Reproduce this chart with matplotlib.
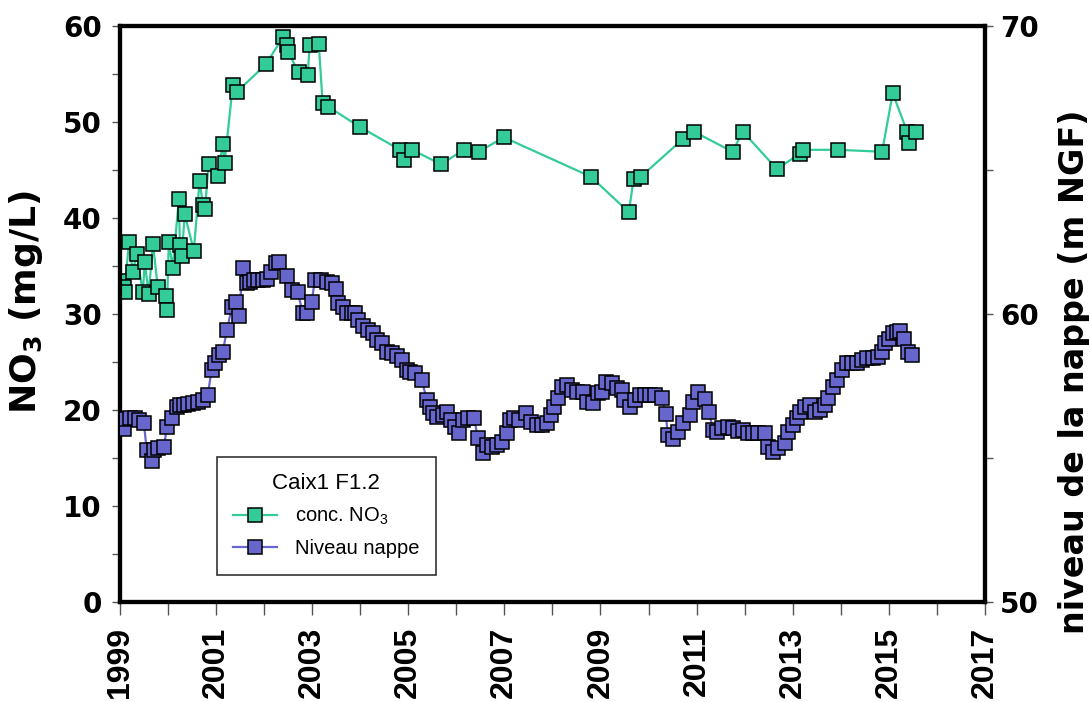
import matplotlib
matplotlib.use("Agg")
import matplotlib.pyplot as plt
from matplotlib.ticker import MultipleLocator

plt.rcParams['font.family'] = ['Liberation Sans', 'DejaVu Sans']
plt.rcParams['mathtext.default'] = 'regular'

# nitrate concentration (mg/L), sampling dates as decimal years
no3_year = [1999.06, 1999.08, 1999.10, 1999.19, 1999.27, 1999.35, 1999.48, 1999.52,
            1999.60, 1999.69, 1999.79, 1999.96, 1999.98, 2000.02, 2000.10, 2000.23,
            2000.25, 2000.29, 2000.35, 2000.54, 2000.66, 2000.73, 2000.77, 2000.85,
            2001.04, 2001.14, 2001.18, 2001.35, 2001.43, 2002.04, 2002.39, 2002.48,
            2002.50, 2002.72, 2002.91, 2002.95, 2003.14, 2003.22, 2003.33, 2003.99,
            2004.83, 2004.91, 2005.08, 2005.68, 2006.16, 2006.47, 2006.99, 2008.80,
            2009.59, 2009.69, 2009.84, 2010.71, 2010.94, 2011.75, 2011.96, 2012.67,
            2013.15, 2013.21, 2013.94, 2014.86, 2015.08, 2015.38, 2015.42, 2015.56]
no3_mgl = [33.4, 32.8, 32.3, 37.5, 34.4, 36.2, 32.3, 35.4,
           32.1, 37.3, 32.8, 31.9, 30.4, 37.5, 34.8, 42.0,
           37.2, 36.0, 40.4, 36.6, 43.8, 41.4, 40.9, 45.6,
           44.4, 47.7, 45.7, 53.8, 53.1, 56.0, 58.8, 58.0,
           57.3, 55.2, 54.9, 58.0, 58.1, 52.0, 51.6, 49.5,
           47.1, 46.0, 47.1, 45.6, 47.1, 46.9, 48.4, 44.3,
           40.6, 44.1, 44.3, 48.2, 49.0, 46.9, 49.0, 45.1,
           46.7, 47.1, 47.1, 46.9, 53.0, 49.0, 47.8, 49.0]

# groundwater level (m NGF)
nappe_year = [1999.08, 1999.09, 1999.21, 1999.31, 1999.40, 1999.50, 1999.56, 1999.67,
              1999.71, 1999.79, 1999.92, 1999.98, 2000.08, 2000.19, 2000.25, 2000.33,
              2000.41, 2000.52, 2000.62, 2000.73, 2000.83, 2000.91, 2000.98, 2001.06,
              2001.14, 2001.23, 2001.33, 2001.41, 2001.48, 2001.56, 2001.64, 2001.70,
              2001.79, 2001.87, 2001.98, 2002.06, 2002.14, 2002.25, 2002.31, 2002.47,
              2002.58, 2002.70, 2002.81, 2002.89, 2002.99, 2003.06, 2003.18, 2003.31,
              2003.41, 2003.49, 2003.54, 2003.64, 2003.72, 2003.83, 2003.89, 2003.95,
              2004.06, 2004.16, 2004.26, 2004.35, 2004.45, 2004.56, 2004.66, 2004.76,
              2004.87, 2004.97, 2005.03, 2005.14, 2005.28, 2005.39, 2005.45, 2005.51,
              2005.60, 2005.72, 2005.80, 2005.89, 2005.97, 2006.05, 2006.14, 2006.24,
              2006.37, 2006.45, 2006.55, 2006.64, 2006.74, 2006.84, 2006.95, 2007.05,
              2007.11, 2007.20, 2007.30, 2007.45, 2007.55, 2007.68, 2007.78, 2007.88,
              2007.97, 2008.03, 2008.11, 2008.20, 2008.30, 2008.40, 2008.51, 2008.63,
              2008.72, 2008.84, 2008.95, 2009.03, 2009.11, 2009.24, 2009.34, 2009.45,
              2009.49, 2009.61, 2009.72, 2009.82, 2009.92, 2010.03, 2010.13, 2010.28,
              2010.36, 2010.40, 2010.51, 2010.61, 2010.71, 2010.86, 2010.92, 2011.03,
              2011.17, 2011.26, 2011.34, 2011.42, 2011.53, 2011.65, 2011.75, 2011.86,
              2011.96, 2012.07, 2012.17, 2012.28, 2012.42, 2012.48, 2012.59, 2012.69,
              2012.84, 2012.90, 2013.00, 2013.09, 2013.15, 2013.25, 2013.36, 2013.46,
              2013.57, 2013.67, 2013.73, 2013.84, 2013.92, 2014.02, 2014.13, 2014.23,
              2014.33, 2014.44, 2014.54, 2014.67, 2014.77, 2014.86, 2014.92, 2015.00,
              2015.08, 2015.17, 2015.23, 2015.31, 2015.40, 2015.48]
nappe_m = [56.01, 56.35, 56.39, 56.39, 56.32, 56.22, 55.28, 54.90,
           55.28, 55.35, 55.38, 56.08, 56.39, 56.77, 56.84, 56.84,
           56.88, 56.91, 56.94, 57.01, 57.19, 58.06, 58.30, 58.58,
           58.68, 59.44, 60.24, 60.42, 59.93, 61.60, 61.08, 61.11,
           61.18, 61.18, 61.18, 61.22, 61.46, 61.77, 61.81, 61.32,
           60.83, 60.76, 60.03, 60.03, 60.42, 61.18, 61.18, 61.11,
           61.08, 60.87, 60.38, 60.24, 60.03, 60.03, 60.03, 59.79,
           59.58, 59.44, 59.34, 59.10, 58.99, 58.68, 58.65, 58.54,
           58.40, 58.06, 57.99, 57.95, 57.71, 57.01, 56.77, 56.56,
           56.42, 56.49, 56.60, 56.32, 56.08, 55.87, 56.32, 56.39,
           56.39, 55.69, 55.17, 55.45, 55.38, 55.45, 55.56, 55.87,
           56.32, 56.39, 56.32, 56.56, 56.25, 56.15, 56.15, 56.22,
           56.49, 56.77, 57.08, 57.47, 57.53, 57.36, 57.29, 57.29,
           56.94, 56.91, 57.26, 57.29, 57.64, 57.60, 57.43, 57.36,
           57.01, 56.77, 57.01, 57.19, 57.19, 57.19, 57.19, 57.08,
           56.53, 55.80, 55.66, 55.90, 56.22, 56.49, 56.94, 57.29,
           57.05, 56.60, 55.97, 55.90, 56.04, 56.08, 56.04, 55.94,
           55.97, 55.87, 55.87, 55.87, 55.87, 55.38, 55.21, 55.35,
           55.52, 55.90, 56.15, 56.39, 56.60, 56.77, 56.84, 56.60,
           56.67, 56.84, 57.08, 57.47, 57.71, 58.06, 58.30, 58.30,
           58.30, 58.40, 58.47, 58.47, 58.51, 58.68, 58.99, 59.13,
           59.34, 59.38, 59.41, 59.13, 58.68, 58.58]

year_ticks = list(range(1999, 2018, 2))

TEAL = "#33cc99"
PURPLE = "#6666cc"
TICK_GREY = "#555555"
WIDE_BOLD = dict(family=["DejaVu Sans"], fontweight="bold")

fig = plt.figure(figsize=(10.89, 7.02), dpi=100)
ax = fig.add_axes([0.110, 0.1425, 0.7945, 0.8205])
ax2 = ax.twinx()

l1, = ax.plot(no3_year, no3_mgl, "-s", color=TEAL, lw=1.6, ms=10.5,
              mfc=TEAL, mec="black", mew=1.1, zorder=3)
l2, = ax2.plot(nappe_year, nappe_m, "-s", color=PURPLE, lw=1.6, ms=10.5,
               mfc=PURPLE, mec="black", mew=1.1, zorder=3)

ax.set_xlim(1999, 2017)
ax.set_ylim(0, 60)
ax2.set_ylim(50, 70)

ax.set_xticks(year_ticks)
ax.set_xticklabels([str(y) for y in year_ticks], rotation=90,
                   fontsize=23, fontweight="bold")
ax.xaxis.set_minor_locator(MultipleLocator(1))
ax.yaxis.set_major_locator(MultipleLocator(10))
ax.yaxis.set_minor_locator(MultipleLocator(5))
ax2.yaxis.set_major_locator(MultipleLocator(10))
ax2.yaxis.set_minor_locator(MultipleLocator(5))

for lab in ax.get_yticklabels() + ax2.get_yticklabels():
    lab.set_fontsize(20)
    lab.set_fontfamily(["DejaVu Sans"])
    lab.set_fontweight("bold")

ax.tick_params(axis="x", which="both", direction="out", length=9,
               width=1, color=TICK_GREY, pad=9)
ax.tick_params(axis="y", which="both", direction="out", length=6,
               width=1, color=TICK_GREY, pad=7)
ax2.tick_params(axis="y", which="both", direction="out", length=6,
                width=1, color=TICK_GREY, pad=5)

for a in (ax, ax2):
    for sp in a.spines.values():
        sp.set_linewidth(3)
        sp.set_color("black")

ax.set_ylabel("NO$_3$ (mg/L)", fontsize=26, **WIDE_BOLD)
ax.yaxis.set_label_coords(-0.087, 0.52)
ax2.set_ylabel("niveau de la nappe (m NGF)", fontsize=24, **WIDE_BOLD)
ax2.yaxis.set_label_coords(1.084, 0.40)

leg = ax2.legend([l1, l2], ["conc. NO$_3$", "Niveau nappe"],
                 title="Caix1 F1.2", loc="upper left",
                 bbox_to_anchor=(0.112, 0.252), fontsize=14.5,
                 title_fontsize=16, frameon=True, fancybox=False,
                 edgecolor="black", handlelength=2.2, handletextpad=0.9,
                 borderpad=0.8, labelspacing=0.6, borderaxespad=0)
leg.get_frame().set_linewidth(1.2)

fig.savefig("out.png", dpi=100)
